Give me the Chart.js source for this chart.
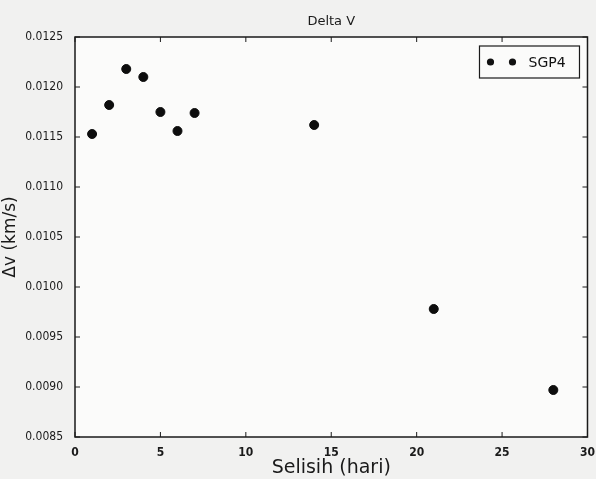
<!DOCTYPE html>
<html>
<head>
<meta charset="utf-8">
<script src="https://cdn.jsdelivr.net/npm/chart.js@4/dist/chart.umd.min.js"></script>
<style>
  html, body { margin: 0; padding: 0; background: #f1f1f0; }
  #wrap { width: 596px; height: 479px; }
</style>
</head>
<body>
<div id="wrap"><canvas id="deltaChart" width="596" height="479"></canvas></div>
<script>
// --- Data ---
const selisihHari = [1, 2, 3, 4, 5, 6, 7, 14, 21, 28];
const deltaV = [0.01153, 0.01182, 0.01218, 0.01210, 0.01175, 0.01156, 0.01174, 0.01162, 0.00978, 0.00897];
const seriesName = 'SGP4';
const chartTitle = 'Delta V';
const xTicks = [0, 5, 10, 15, 20, 25, 30];
const yTicks = [0.0085, 0.0090, 0.0095, 0.0100, 0.0105, 0.0110, 0.0115, 0.0120, 0.0125];

const points = selisihHari.map((x, i) => ({ x: x, y: deltaV[i] }));

// frame, inward ticks on all sides, title over the axes and matplotlib style legend
const framePlugin = {
    id: 'frame',
    beforeDatasetsDraw(chart) {
        const { ctx, chartArea: a } = chart;
        ctx.save();
        ctx.fillStyle = '#fbfbfa';
        ctx.fillRect(a.left, a.top, a.right - a.left, a.bottom - a.top);
        ctx.restore();
    },
    afterDatasetsDraw(chart) {
        const { ctx, chartArea: a, scales } = chart;
        ctx.save();
        ctx.strokeStyle = '#1a1a1a';
        ctx.lineWidth = 1.5;
        ctx.strokeRect(a.left, a.top, a.right - a.left, a.bottom - a.top);
        ctx.lineWidth = 1;
        const len = 5;
        ctx.beginPath();
        xTicks.forEach(v => {
            const px = scales.x.getPixelForValue(v);
            ctx.moveTo(px, a.bottom); ctx.lineTo(px, a.bottom - len);
            ctx.moveTo(px, a.top); ctx.lineTo(px, a.top + len);
        });
        yTicks.forEach(v => {
            const py = scales.y.getPixelForValue(v);
            ctx.moveTo(a.left, py); ctx.lineTo(a.left + len, py);
            ctx.moveTo(a.right, py); ctx.lineTo(a.right - len, py);
        });
        ctx.stroke();

        // title, centred on the axes like matplotlib
        ctx.fillStyle = '#1a1a1a';
        ctx.font = '13px "DejaVu Sans"';
        ctx.textAlign = 'center';
        ctx.textBaseline = 'alphabetic';
        ctx.fillText(chartTitle, (a.left + a.right) / 2, a.top - 12);

        // legend box
        const bw = 100, bh = 32;
        const bx = a.right - bw - 8, by = a.top + 9;
        ctx.fillStyle = '#fbfbfa';
        ctx.fillRect(bx, by, bw, bh);
        ctx.strokeStyle = '#1a1a1a';
        ctx.lineWidth = 1.2;
        ctx.strokeRect(bx, by, bw, bh);
        ctx.fillStyle = '#111';
        [bx + 11, bx + 33].forEach(cx => {
            ctx.beginPath();
            ctx.arc(cx, by + bh / 2, 3.6, 0, Math.PI * 2);
            ctx.fill();
        });
        ctx.font = '14px "DejaVu Sans"';
        ctx.textAlign = 'left';
        ctx.textBaseline = 'middle';
        ctx.fillText(seriesName, bx + 49, by + bh / 2 + 1);
        ctx.restore();
    }
};

const ctx = document.getElementById('deltaChart').getContext('2d');
new Chart(ctx, {
    type: 'scatter',
    data: {
        datasets: [{
            label: seriesName,
            data: points,
            backgroundColor: '#0d0d0d',
            borderColor: '#0d0d0d',
            pointRadius: 4.5,
            pointHoverRadius: 4.5
        }]
    },
    options: {
        responsive: false,
        animation: false,
        layout: { padding: { left: 0, right: 7, top: 37, bottom: 0 } },
        plugins: {
            legend: { display: false },
            tooltip: { enabled: false },
            title: { display: false }
        },
        scales: {
            x: {
                type: 'linear',
                min: 0, max: 30,
                afterBuildTicks: s => { s.ticks = xTicks.map(v => ({ value: v })); },
                afterFit: s => { s.height = 42; },
                grid: { display: false },
                border: { display: false },
                ticks: {
                    color: '#1a1a1a',
                    padding: 1,
                    maxRotation: 0,
                    font: { family: 'DejaVu Sans Condensed', size: 12, weight: 'bold' }
                },
                title: {
                    display: true,
                    text: 'Selisih (hari)',
                    color: '#1a1a1a',
                    padding: { top: 0, bottom: 0 },
                    font: { family: 'DejaVu Sans', size: 19 }
                }
            },
            y: {
                type: 'linear',
                min: 0.0085, max: 0.0125,
                afterBuildTicks: s => { s.ticks = yTicks.map(v => ({ value: v })); },
                afterFit: s => { s.width = 75; },
                grid: { display: false },
                border: { display: false },
                ticks: {
                    color: '#1a1a1a',
                    padding: 4,
                    font: { family: 'DejaVu Sans Condensed', size: 12 },
                    callback: v => Number(v).toFixed(4)
                },
                title: {
                    display: true,
                    text: 'Δv (km/s)',
                    color: '#1a1a1a',
                    padding: { top: 0, bottom: 0 },
                    font: { family: 'DejaVu Sans', size: 17 }
                }
            }
        }
    },
    plugins: [framePlugin]
});
</script>
</body>
</html>
